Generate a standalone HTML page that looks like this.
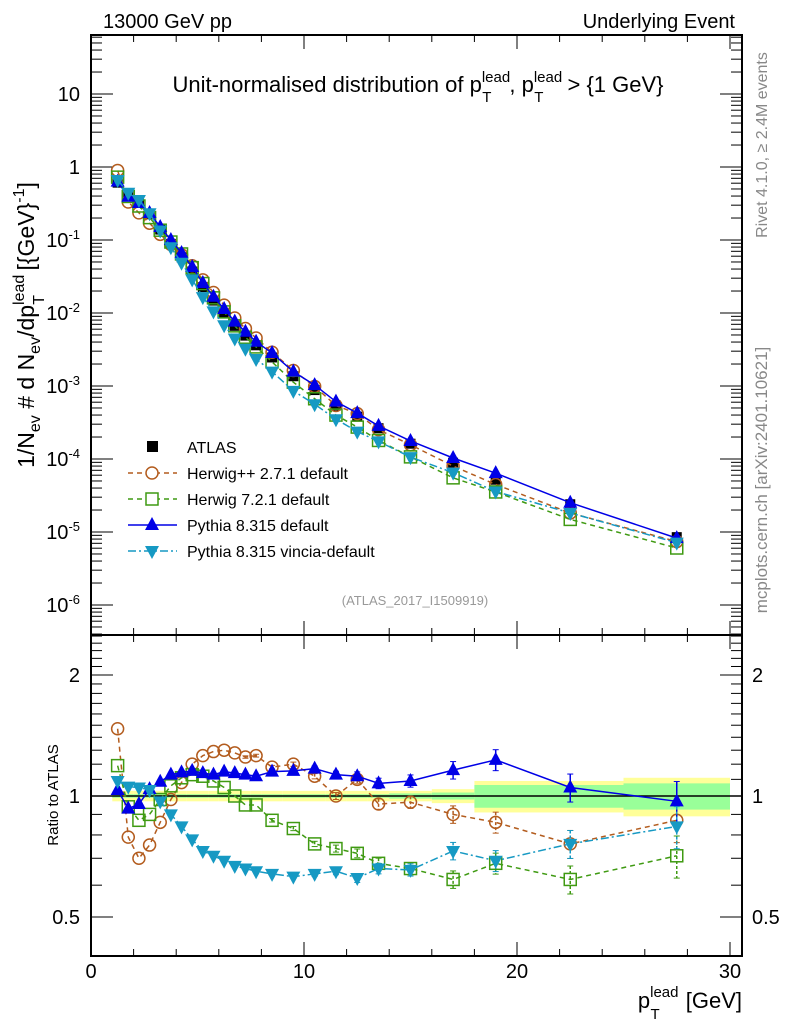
<!DOCTYPE html>
<html><head><meta charset="utf-8"><style>
body{margin:0;background:#fff;}
svg{display:block;font-family:"Liberation Sans",sans-serif;}
</style></head><body>
<svg id="c" width="786" height="1024" viewBox="0 0 786 1024" xmlns="http://www.w3.org/2000/svg">
<g id="bands"></g>
<g id="grid"></g>
<g id="series"></g>
<text x="103" y="28" font-size="20">13000 GeV pp</text>
<text x="735" y="28" font-size="20" text-anchor="end">Underlying Event</text>
<text x="418" y="92" font-size="22" text-anchor="middle">Unit-normalised distribution of p<tspan font-size="15" dy="-10">lead</tspan><tspan font-size="15" dx="-28" dy="20">T</tspan><tspan dy="-10" dx="18">, p</tspan><tspan font-size="15" dy="-10">lead</tspan><tspan font-size="15" dx="-28" dy="20">T</tspan><tspan dy="-10" dx="18"> &gt; {1 GeV}</tspan></text>
<text x="415" y="605" font-size="13" fill="#999" text-anchor="middle">(ATLAS_2017_I1509919)</text>
<text transform="translate(767,145) rotate(-90)" font-size="16" fill="#888" text-anchor="middle">Rivet 4.1.0, ≥ 2.4M events</text>
<text transform="translate(767,480) rotate(-90)" font-size="17" fill="#888" text-anchor="middle">mcplots.cern.ch [arXiv:2401.10621]</text>
<text transform="translate(34,325) rotate(-90)" font-size="23" text-anchor="middle">1/N<tspan font-size="16" dy="6">ev</tspan><tspan dy="-6"> # d N</tspan><tspan font-size="16" dy="6">ev</tspan><tspan dy="-6">/dp</tspan><tspan font-size="16" dy="-10">lead</tspan><tspan font-size="16" dx="-30" dy="20">T</tspan><tspan dy="-10" dx="18"> [{GeV}</tspan><tspan font-size="16" dy="-10">-1</tspan><tspan dy="10">]</tspan></text>
<text transform="translate(58,795) rotate(-90)" font-size="15" text-anchor="middle">Ratio to ATLAS</text>
<text x="742" y="1008" font-size="22" text-anchor="end">p<tspan font-size="15" dy="-11">lead</tspan><tspan font-size="15" dx="-28" dy="22">T</tspan><tspan dy="-11" dx="20"> [GeV]</tspan></text>
<g id="legend"></g>
</svg>
<script>
const xs=[1.25,1.75,2.25,2.75,3.25,3.75,4.25,4.75,5.25,5.75,6.25,6.75,7.25,7.75,8.5,9.5,10.5,11.5,12.5,13.5,15,17,19,22.5,27.5];
const edges=[1,1.5,2,2.5,3,3.5,4,4.5,5,5.5,6,6.5,7,7.5,8,9,10,11,12,13,14,16,18,20,25,30];
const atlas=[0.61,0.42,0.336,0.225,0.139,0.0885,0.058,0.037,0.0226,0.0148,0.00986,0.00667,0.0049,0.00361,0.00246,0.00136,0.00088,0.00054,0.00038,0.000264,0.000162,8.9e-5,5.2e-5,2.4e-5,8.5e-6];
const errTot=[0.03,0.03,0.03,0.03,0.03,0.03,0.03,0.03,0.03,0.03,0.03,0.03,0.03,0.03,0.03,0.03,0.03,0.03,0.03,0.03,0.03,0.04,0.09,0.09,0.11];
const errStat=[0.01,0.01,0.01,0.01,0.01,0.01,0.01,0.01,0.01,0.01,0.01,0.01,0.01,0.01,0.01,0.01,0.01,0.01,0.01,0.01,0.015,0.02,0.065,0.065,0.075];
const rHpp=[1.47,0.79,0.70,0.755,0.86,0.98,1.08,1.20,1.26,1.29,1.30,1.28,1.25,1.26,1.18,1.20,1.12,1.0,1.10,0.955,0.965,0.90,0.86,0.76,0.87];
const rH7=[1.19,0.94,0.87,0.90,0.98,1.06,1.11,1.13,1.12,1.09,1.05,1.0,0.95,0.95,0.87,0.83,0.76,0.74,0.72,0.68,0.66,0.62,0.68,0.62,0.71];
const rPy=[1.035,0.93,0.955,1.04,1.085,1.13,1.145,1.155,1.14,1.13,1.15,1.14,1.13,1.12,1.15,1.155,1.17,1.13,1.12,1.075,1.09,1.16,1.23,1.05,0.97];
const rVin=[1.09,1.055,1.05,1.035,0.97,0.90,0.84,0.78,0.73,0.71,0.69,0.67,0.66,0.65,0.64,0.63,0.64,0.65,0.625,0.66,0.655,0.73,0.69,0.76,0.84];
const rErr=[0.005,0.005,0.005,0.005,0.005,0.005,0.005,0.005,0.005,0.005,0.006,0.006,0.007,0.008,0.01,0.012,0.015,0.02,0.025,0.03,0.035,0.05,0.06,0.08,0.12];

const NS="http://www.w3.org/2000/svg";
const L=91,R=742,T=35,MB=635,B=956;
const X=v=>L+(v-0)*(730-91)/30;
const YM=v=>94-73*(Math.log10(v)-1);
const YR=r=>796-121*Math.log2(r);
function el(tag,attrs,parent){const e=document.createElementNS(NS,tag);for(const k in attrs)e.setAttribute(k,attrs[k]);parent.appendChild(e);return e;}
const grid=document.getElementById('grid'),bands=document.getElementById('bands'),ser=document.getElementById('series'),leg=document.getElementById('legend');

for(let i=0;i<xs.length;i++){
  const x0=X(edges[i]),x1=X(edges[i+1]);
  const b1=el('rect',{x:x0,y:YR(1+errTot[i]),width:x1-x0,height:YR(1-errTot[i])-YR(1+errTot[i]),fill:'#ffff99'},bands);
  
  
  const b2=el('rect',{x:x0,y:YR(1+errStat[i]),width:x1-x0,height:YR(1-errStat[i])-YR(1+errStat[i]),fill:'#99ff99'},bands);
  
  
}
el('line',{x1:L,x2:R,y1:YR(1),y2:YR(1),stroke:'#000','stroke-width':1.5},grid);

el('rect',{x:L,y:T,width:R-L,height:MB-T,fill:'none',stroke:'#000','stroke-width':2},grid);
el('rect',{x:L,y:MB,width:R-L,height:B-MB,fill:'none',stroke:'#000','stroke-width':2},grid);
for(let v=0;v<=30;v+=2){
  const big=v%10===0,x=X(v);
  for(const [y0,s] of [[T,1],[MB,-1],[MB,1],[B,-1]]){
    el('line',{x1:x,x2:x,y1:y0,y2:y0+s*(big?14:7),stroke:'#000','stroke-width':1},grid);
  }
  if(big){const t=el('text',{x:x,y:978,'font-size':20,'text-anchor':'middle'},grid);t.textContent=String(v);
    
    }
}
const mLabels=['10','1','10<tspan dy="-8" font-size="13">-1</tspan>','10<tspan dy="-8" font-size="13">-2</tspan>','10<tspan dy="-8" font-size="13">-3</tspan>','10<tspan dy="-8" font-size="13">-4</tspan>','10<tspan dy="-8" font-size="13">-5</tspan>','10<tspan dy="-8" font-size="13">-6</tspan>'];
for(let d=-7;d<=1;d++){
  for(let m=1;m<10;m++){
    const y=YM(m*Math.pow(10,d));if(y<T||y>MB)continue;
    const len=m===1?22:11;
    el('line',{x1:L,x2:L+len,y1:y,y2:y,stroke:'#000'},grid);
    el('line',{x1:R,x2:R-len,y1:y,y2:y,stroke:'#000'},grid);
  }
}
for(let i=0;i<mLabels.length;i++){
  const d=1-i;const t=el('text',{x:80,y:YM(Math.pow(10,d))+7,'font-size':20,'text-anchor':'end'},grid);t.innerHTML=mLabels[i];
  
  
}
const rTicks=[0.5,0.6,0.7,0.8,0.9,1,1.1,1.2,1.3,1.4,1.5,1.6,1.7,1.8,1.9,2,2.1,2.2,2.3,2.4,2.5];
rTicks.forEach(r=>{const y=YR(r);const big=(r===0.5||r===1||r===2);
  el('line',{x1:L,x2:L+(big?22:11),y1:y,y2:y,stroke:'#000'},grid);
  el('line',{x1:R,x2:R-(big?22:11),y1:y,y2:y,stroke:'#000'},grid);});
[[2,'2'],[1,'1'],[0.5,'0.5']].forEach(([r,s])=>{
  for(const [x,a] of [[80,'end'],[752,'start']]){
    const t=el('text',{x:x,y:YR(r)+7,'font-size':20,'text-anchor':a},grid);t.textContent=s;
    
    
  }});

function marker(g,type,x,y,col){
  if(type==='sq')return el('rect',{x:x-5,y:y-5,width:10,height:10,fill:'#000'},g);
  if(type==='circ')return el('circle',{cx:x,cy:y,r:6,fill:'none',stroke:col,'stroke-width':1.5},g);
  if(type==='osq')return el('rect',{x:x-6,y:y-6,width:12,height:12,fill:'none',stroke:col,'stroke-width':1.5},g);
  if(type==='up')return el('polygon',{points:`${x},${y-8} ${x-7},${y+5} ${x+7},${y+5}`,fill:col},g);
  if(type==='dn')return el('polygon',{points:`${x},${y+8} ${x-7},${y-5} ${x+7},${y-5}`,fill:col},g);
}
const models=[
  {name:'herwigpp',label:'Herwig++ 2.7.1 default',r:rHpp,col:'#b35c1e',type:'circ',dash:'5,4'},
  {name:'herwig7',label:'Herwig 7.2.1 default',r:rH7,col:'#3f9a12',type:'osq',dash:'5,4'},
  {name:'pythia',label:'Pythia 8.315 default',r:rPy,col:'#0000e6',type:'up',dash:''},
  {name:'vincia',label:'Pythia 8.315 vincia-default',r:rVin,col:'#1699c3',type:'dn',dash:'8,3,2,3'}
];
const ga=el('g',{},ser);


xs.forEach((x,i)=>{
  const p=marker(ga,'sq',X(x),YM(atlas[i]),'#000');
  
  
});
models.forEach(m=>{
  const g=el('g',{},ser);
  
  
  const mp=xs.map((x,i)=>`${X(x)},${YM(atlas[i]*m.r[i])}`).join(' ');
  el('polyline',{points:mp,fill:'none',stroke:m.col,'stroke-width':1.5,'stroke-dasharray':m.dash},g);
  const rp=xs.map((x,i)=>`${X(x)},${YR(m.r[i])}`).join(' ');
  el('polyline',{points:rp,fill:'none',stroke:m.col,'stroke-width':1.5,'stroke-dasharray':m.dash},g);
  xs.forEach((x,i)=>{
    const e=rErr[i]*m.r[i];
    if(e>0.008){const y1=YR(m.r[i]+e),y2=YR(m.r[i]-e);
      el('line',{x1:X(x),x2:X(x),y1:y1,y2:y2,stroke:m.col,'stroke-width':1.5,'stroke-dasharray':m.dash?'3,2':''},g);
      el('line',{x1:X(x)-3,x2:X(x)+3,y1:y1,y2:y1,stroke:m.col},g);
      el('line',{x1:X(x)-3,x2:X(x)+3,y1:y2,y2:y2,stroke:m.col},g);}
  });
  xs.forEach((x,i)=>{
    const p=marker(g,m.type,X(x),YM(atlas[i]*m.r[i]),m.col);
    
    
    const q=marker(g,m.type,X(x),YR(m.r[i]),m.col);
    
    
  });
});

const lrows=[{label:'ATLAS',type:'sq',col:'#000',dash:null}].concat(models);
lrows.forEach((m,k)=>{
  const y=447+k*26;
  const g=el('g',{},leg);
  
  
  if(m.dash!==null&&m.dash!==undefined)el('line',{x1:128,x2:177,y1:y,y2:y,stroke:m.col,'stroke-width':1.5,'stroke-dasharray':m.dash},g);
  if(m.type==='sq'){el('rect',{x:147,y:y-6,width:11,height:11,fill:'#000'},g);}
  else if(m.type==='circ'||m.type==='osq'){const p=marker(g,m.type,152,y,m.col);p.setAttribute('fill','#fff');}
  else marker(g,m.type,152,y,m.col);
  const t=el('text',{x:187,y:y+6,'font-size':16},g);t.textContent=m.label;
});
</script>
</body></html>
